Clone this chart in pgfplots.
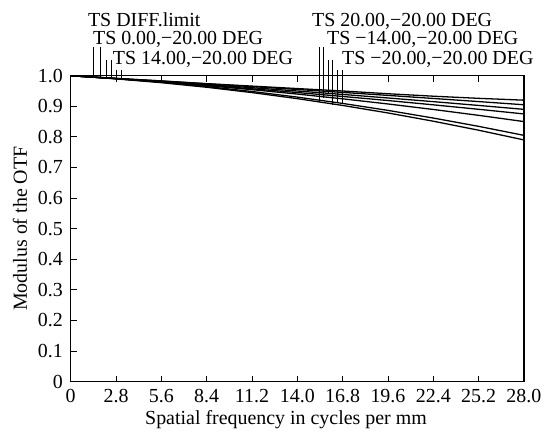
\documentclass[border=0pt]{standalone}
\usepackage{fontspec}
\setmainfont{Liberation Serif}
\usepackage{pgfplots}
\pgfplotsset{compat=1.18}
\begin{document}
\fontsize{20bp}{24bp}\selectfont
\begin{tikzpicture}
\begin{axis}[
  scale only axis,
  width=455bp, height=307bp,
  xmin=0, xmax=28, ymin=0, ymax=1,
  xtick={0,2.8,5.6,8.4,11.2,14,16.8,19.6,22.4,25.2,28},
  xticklabels={0,2.8,5.6,8.4,11.2,14.0,16.8,19.6,22.4,25.2,28.0},
  ytick={0,0.1,0.2,0.3,0.4,0.5,0.6,0.7,0.8,0.9,1.0},
  yticklabels={0,0.1,0.2,0.3,0.4,0.5,0.6,0.7,0.8,0.9,1.0},
  xtick pos=both, ytick pos=left,
  tick align=inside,
  major tick length=6bp,
  tick style={black, line width=0.8pt},
  axis line style={line width=1.3pt},
  tick label style={font=\fontsize{20bp}{24bp}\selectfont},
  label style={font=\fontsize{20bp}{24bp}\selectfont},
  xticklabel style={yshift=-1bp},
  yticklabel style={xshift=-1bp},
  xlabel={Spatial frequency in cycles per mm},
  ylabel={Modulus of the OTF},
  xlabel style={at={(axis description cs:0.475,-0.125)}, anchor=center},
  ylabel style={at={(axis description cs:-0.112,0.5)}, anchor=center},
  clip=false,
  cycle list={{black}},
  every axis plot post/.append style={black, line width=1.3pt},
  no marks,
]
\addplot coordinates {(0,1) (2.8,0.991) (5.6,0.983) (8.4,0.974) (11.2,0.966) (14,0.958) (16.8,0.950) (19.6,0.941) (22.4,0.933) (25.2,0.926) (28,0.920)};
\addplot coordinates {(0,1) (2.8,0.9914) (5.6,0.9826) (8.4,0.9736) (11.2,0.9644) (14,0.955) (16.8,0.9454) (19.6,0.9356) (22.4,0.9256) (25.2,0.9154) (28,0.905)};
\addplot coordinates {(0,1) (2.8,0.9908) (5.6,0.9812) (8.4,0.9712) (11.2,0.9608) (14,0.950) (16.8,0.9388) (19.6,0.9272) (22.4,0.9152) (25.2,0.9028) (28,0.890)};
\addplot coordinates {(0,1) (2.8,0.9902) (5.6,0.9798) (8.4,0.9688) (11.2,0.9572) (14,0.945) (16.8,0.9322) (19.6,0.9188) (22.4,0.9048) (25.2,0.8902) (28,0.875)};
\addplot coordinates {(0,1) (2.8,0.9904) (5.6,0.9796) (8.4,0.9676) (11.2,0.9544) (14,0.940) (16.8,0.9244) (19.6,0.9076) (22.4,0.8896) (25.2,0.8704) (28,0.850)};
\addplot coordinates {(0,1) (2.8,0.9904) (5.6,0.9786) (8.4,0.9646) (11.2,0.9484) (14,0.930) (16.8,0.9094) (19.6,0.8866) (22.4,0.8616) (25.2,0.8344) (28,0.805)};
\addplot coordinates {(0,1) (2.8,0.9898) (5.6,0.9772) (8.4,0.9622) (11.2,0.9448) (14,0.925) (16.8,0.9028) (19.6,0.8782) (22.4,0.8512) (25.2,0.8218) (28,0.790)};
% marker lines
\draw[line width=1pt] (axis cs:1.43,0.995) -- (axis cs:1.43,1.095);
\draw[line width=1pt] (axis cs:1.83,0.994) -- (axis cs:1.83,1.095);
\draw[line width=1pt] (axis cs:2.20,0.992) -- (axis cs:2.20,1.052);
\draw[line width=1pt] (axis cs:2.50,0.991) -- (axis cs:2.50,1.052);
\draw[line width=1pt] (axis cs:2.80,0.990) -- (axis cs:2.80,1.020);
\draw[line width=1pt] (axis cs:3.12,0.989) -- (axis cs:3.12,1.020);
\draw[line width=1pt] (axis cs:15.37,0.914) -- (axis cs:15.37,1.095);
\draw[line width=1pt] (axis cs:15.63,0.927) -- (axis cs:15.63,1.095);
\draw[line width=1pt] (axis cs:15.94,0.940) -- (axis cs:15.94,1.052);
\draw[line width=1pt] (axis cs:16.20,0.905) -- (axis cs:16.20,1.052);
\draw[line width=1pt] (axis cs:16.49,0.915) -- (axis cs:16.49,1.020);
\draw[line width=1pt] (axis cs:16.80,0.910) -- (axis cs:16.80,1.020);
% labels
\node[anchor=base west, inner sep=0pt] at (axis cs:1.06,1.160) {TS DIFF.limit};
\node[anchor=base west, inner sep=0pt] at (axis cs:1.37,1.101) {TS 0.00,−20.00 DEG};
\node[anchor=base west, inner sep=0pt] at (axis cs:2.60,1.036) {TS 14.00,−20.00 DEG};
\node[anchor=base west, inner sep=0pt] at (axis cs:14.90,1.160) {TS 20.00,−20.00 DEG};
\node[anchor=base west, inner sep=0pt] at (axis cs:15.83,1.101) {TS −14.00,−20.00 DEG};
\node[anchor=base west, inner sep=0pt] at (axis cs:16.76,1.036) {TS −20.00,−20.00 DEG};
\path (rel axis cs:-0.156,-0.15) rectangle (rel axis cs:1.048,1.2476);
\end{axis}
\end{tikzpicture}
\end{document}
